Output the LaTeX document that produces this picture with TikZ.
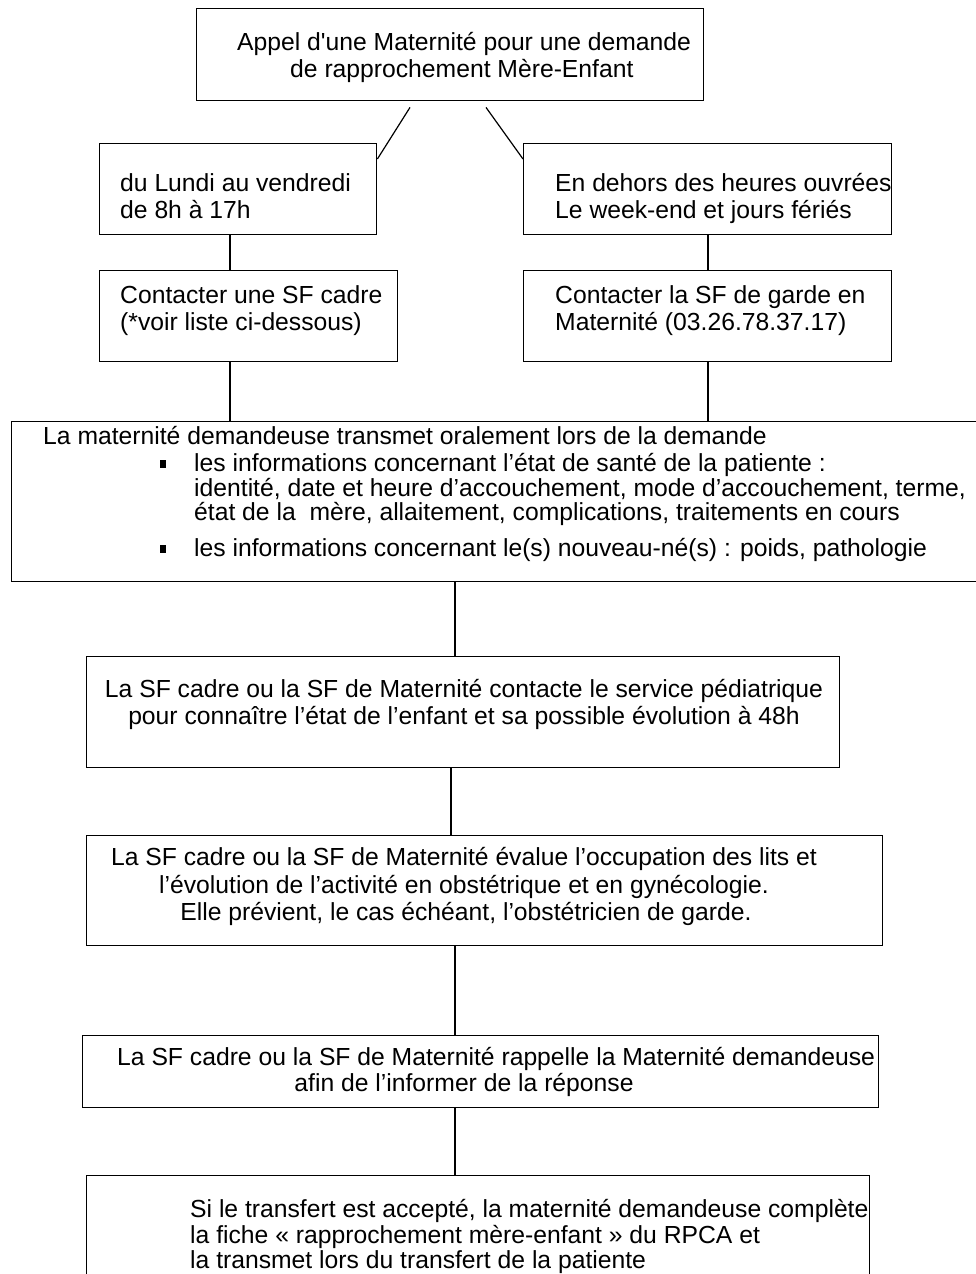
\documentclass[tikz,border=0pt]{standalone}
\usepackage{fontspec}
\setmainfont{Liberation Sans}
\usetikzlibrary{calc}
\newcommand\fsz{\fontsize{24.7}{27}\selectfont}
\tikzset{
  box/.style={draw, line width=1.4pt, inner sep=0pt, anchor=north west},
  txt/.style={inner sep=0pt, anchor=base west, font=\fsz},
  ctxt/.style={inner sep=0pt, anchor=base, font=\fsz},
  bul/.style={fill, inner sep=0pt, minimum width=5.5pt, minimum height=7.5pt},
  link/.style={line width=1.2pt}
}
\begin{document}
\begin{tikzpicture}[x=1pt,y=-1pt]
\useasboundingbox (0,0) rectangle (976,1274);
\clip (0,0) rectangle (976,1274);
% boxes
\node[box, minimum width=507pt, minimum height=92pt] (b1) at (196,8) {};
\node[box, minimum width=277pt, minimum height=91pt] (b2l) at (99,143) {};
\node[box, minimum width=368pt, minimum height=91pt] (b2r) at (523,143) {};
\node[box, minimum width=298pt, minimum height=91pt] (b3l) at (99,270) {};
\node[box, minimum width=368pt, minimum height=91pt] (b3r) at (523,270) {};
\node[box, minimum width=1000pt, minimum height=160pt] (b4) at (11,421) {};
\node[box, minimum width=753pt, minimum height=111pt] (b5) at (86,656) {};
\node[box, minimum width=796pt, minimum height=110pt] (b6) at (86,835) {};
\node[box, minimum width=796pt, minimum height=72pt] (b7) at (82,1035) {};
\node[box, minimum width=783pt, minimum height=150pt] (b8) at (86,1175) {};
% connectors
\draw[link] ($(b1.south west)+(214,6)$) -- ($(b2l.north east)+(0,16)$);
\draw[link] ($(b1.south west)+(290,6)$) -- ($(b2r.north west)+(0,16)$);
\draw[link] ($(b2l.south west)+(131,0)$) -- ($(b3l.north west)+(131,0)$);
\draw[link] ($(b2r.south west)+(185,0)$) -- ($(b3r.north west)+(185,0)$);
\draw[link] ($(b3l.south west)+(131,0)$) -- ($(b4.north west)+(219,0)$);
\draw[link] ($(b3r.south west)+(185,0)$) -- ($(b4.north west)+(697,0)$);
\draw[link] ($(b4.south west)+(444,0)$) -- ($(b5.north west)+(369,0)$);
\draw[link] ($(b5.south west)+(365,0)$) -- ($(b6.north west)+(365,0)$);
\draw[link] ($(b6.south west)+(369,0)$) -- ($(b7.north west)+(373,0)$);
\draw[link] ($(b7.south west)+(373,0)$) -- ($(b8.north west)+(369,0)$);
% texts
\node[txt] (t1a) at (237,50) {Appel d\textquotesingle une Maternité pour une demande};
\node[txt] (t1b) at (290,77) {de rapprochement Mère-Enfant};
\node[txt] (t2a) at (120,191) {du Lundi au vendredi};
\node[txt] (t2b) at (120,218) {de 8h à 17h};
\node[txt] (t2c) at (555,191) {En dehors des heures ouvrées};
\node[txt] (t2d) at (555,218) {Le week-end et jours fériés};
\node[txt] (t3a) at (120,303) {Contacter une SF cadre};
\node[txt] (t3b) at (120,330) {(*voir liste ci-dessous)};
\node[txt] (t3c) at (555,303) {Contacter la SF de garde en};
\node[txt] (t3d) at (555,330) {Maternité (03.26.78.37.17)};
\node[txt] (t4a) at (43,444) {La maternité demandeuse transmet oralement lors de la demande};
\node[bul] (u1) at (163,464) {};
\node[txt] (t4b) at (194,471) {les informations concernant l’état de santé de la patiente :};
\node[txt] (t4c) at (194,496) {identité, date et heure d’accouchement, mode d’accouchement, terme,};
\node[txt] (t4d) at (194,520) {état de la \ mère, allaitement, complications, traitements en cours};
\node[bul] (u2) at (163,549) {};
\node[txt] (t4e) at (194,556) {les informations concernant le(s) nouveau-né(s) : poids, pathologie};
\node[ctxt] (t5a) at (464,697) {La SF cadre ou la SF de Maternité contacte le service pédiatrique};
\node[ctxt] (t5b) at (464,724) {pour connaître l’état de l’enfant et sa possible évolution à 48h};
\node[ctxt] (t6a) at (464,865) {La SF cadre ou la SF de Maternité évalue l’occupation des lits et};
\node[ctxt] (t6b) at (464,893) {l’évolution de l’activité en obstétrique et en gynécologie.};
\node[ctxt] (t6c) at (466,920) {Elle prévient, le cas échéant, l’obstétricien de garde.};
\node[txt] (t7a) at (117,1065) {La SF cadre ou la SF de Maternité rappelle la Maternité demandeuse};
\node[ctxt] (t7b) at (464,1091) {afin de l’informer de la réponse};
\node[txt] (t8a) at (190,1217) {Si le transfert est accepté, la maternité demandeuse complète};
\node[txt] (t8b) at (190,1243) {la fiche «~rapprochement mère-enfant~» du RPCA et};
\node[txt] (t8c) at (190,1268) {la transmet lors du transfert de la patiente};
\end{tikzpicture}
\end{document}
